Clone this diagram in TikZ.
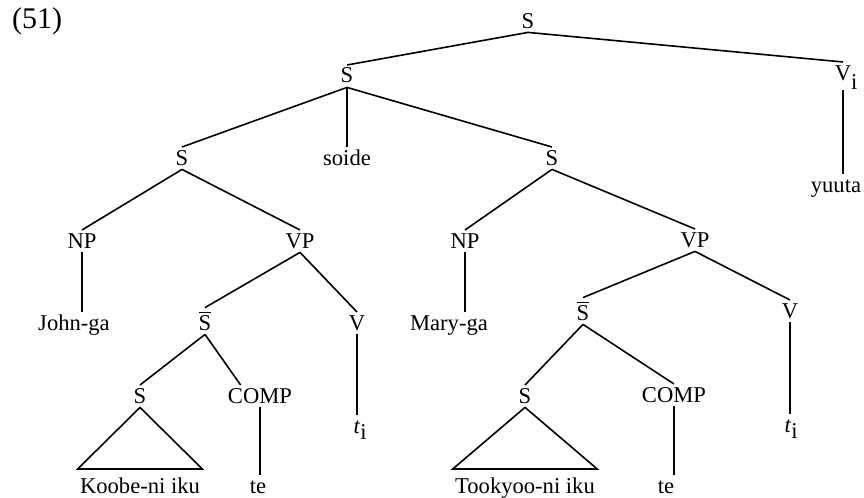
\documentclass[tikz,border=0pt]{standalone}
\usepackage{fontspec}
\setmainfont{Liberation Serif}
\usetikzlibrary{positioning}

% lowered index after a category or trace
\newcommand{\idx}[2][.4em]{\rlap{\raisebox{-#1}{#2}}}
% barred category
\newcommand{\barS}{$\overline{\mbox{S}}$}

\begin{document}
\begin{tikzpicture}[x=0.5pt,y=-0.5pt,
  lab/.style={anchor=base,inner xsep=1pt,inner ysep=2pt,
    text height=0.68em,text depth=0pt,font=\fontsize{11.3}{13.6}\selectfont},
  barred/.style={lab,text height=0.9em},
  edge/.style={line width=0.8pt}]
\useasboundingbox (0,0) rectangle (864,498);

\node[lab,font=\fontsize{15}{18}\selectfont] (ex) at (37,28) {(51)};

% categories
\node[lab] (sTop)  at (528,28)  {S};
\node[lab] (sMid)  at (347,83)  {S};
\node[lab,text depth=0.3em] (vi) at (843,80) {V\idx{i}};
\node[lab] (sL)    at (182,165) {S};
\node[lab] (sR)    at (552,165) {S};
\node[lab] (npL)   at (82,248)  {NP};
\node[lab] (vpL)   at (300,248) {VP};
\node[lab] (npR)   at (465,248) {NP};
\node[lab] (vpR)   at (695,247) {VP};
\node[barred] (sbarL) at (205,330) {\barS};
\node[lab] (vL)    at (357,330) {V};
\node[barred] (sbarR) at (583,320) {\barS};
\node[lab] (vR)    at (790,318) {V};
\node[lab] (sLL)   at (140,403) {S};
\node[lab] (compL) at (260,403) {COMP};
\node[lab] (sRR)   at (525,403) {S};
\node[lab] (compR) at (674,402) {COMP};

% words
\node[lab] (soide)   at (347,165) {soide};
\node[lab] (yuuta)   at (836,192) {yuuta};
\node[lab] (john)    at (74,330)  {John-ga};
\node[lab] (mary)    at (449,330) {Mary-ga};
\node[lab] (tL)      at (357,433) {\textit{t}\idx[.3em]{i}};
\node[lab] (tR)      at (788,432) {\textit{t}\idx[.3em]{i}};
\node[lab] (koobe)   at (140,493) {Koobe-ni iku};
\node[lab] (teL)     at (258,493) {te};
\node[lab] (tookyoo) at (525,493) {Tookyoo-ni iku};
\node[lab] (teR)     at (666,493) {te};

% branches
\draw[edge] (sTop.south) -- (sMid.north);
\draw[edge] (sTop.south) -- (vi.north);
\draw[edge] (sMid.south) -- (sL.north);
\draw[edge] (sMid.south) -- (soide.north);
\draw[edge] (sMid.south) -- (sR.north);
\draw[edge] (sL.south) -- (npL.north);
\draw[edge] (sL.south) -- (vpL.north);
\draw[edge] (sR.south) -- (npR.north);
\draw[edge] (sR.south) -- (vpR.north);
\draw[edge] (vpL.south) -- (sbarL.north);
\draw[edge] (vpL.south) -- (vL.north);
\draw[edge] (vpR.south) -- (sbarR.north);
\draw[edge] (vpR.south) -- (vR.north);
\draw[edge] (sbarL.south) -- (sLL.north);
\draw[edge] (sbarL.south) -- (compL.150);
\draw[edge] (sbarR.south) -- (sRR.north);
\draw[edge] (sbarR.south) -- (compR.north);

% unary lines
\draw[edge] (vi.south) -- (vi.south |- yuuta.north);
\draw[edge] (npL.south) -- (npL.south |- john.north);
\draw[edge] (npR.south) -- (npR.south |- mary.north);
\draw[edge] (vL.south) -- (vL.south |- tL.north);
\draw[edge] (vR.south) -- (vR.south |- tR.north);
\draw[edge] (compL.south) -- (compL.south |- teL.north);
\draw[edge] (compR.south) -- (compR.south |- teR.north);

% roofs
\draw[edge] (sLL.south) -- ([yshift=3pt]koobe.north west) -- ([yshift=3pt]koobe.north east) -- cycle;
\draw[edge] (sRR.south) -- ([yshift=3pt]tookyoo.north west) -- ([yshift=3pt]tookyoo.north east) -- cycle;
\end{tikzpicture}
\end{document}
